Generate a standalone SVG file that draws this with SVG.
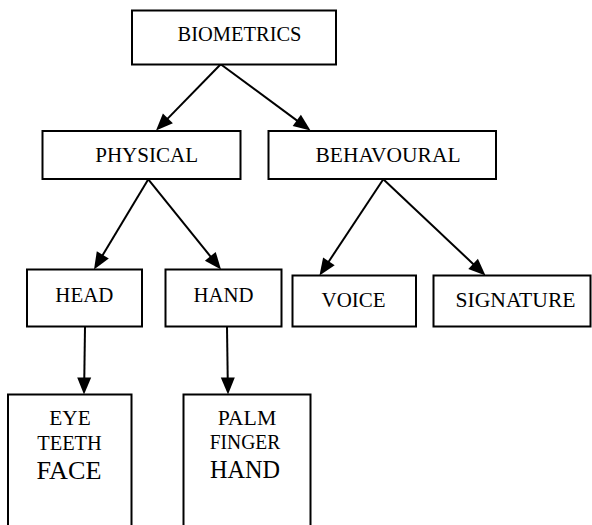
<svg xmlns="http://www.w3.org/2000/svg" width="592" height="525" viewBox="0 0 592 525">
<style>
.box{fill:#fff;stroke:#000;stroke-width:2}
text{font-family:"Liberation Serif","DejaVu Serif","Times New Roman",serif;font-size:21px;fill:#000;text-anchor:middle}
text.sm{font-size:20px}
text.lg{font-size:25px}
.con{stroke:#000;stroke-width:2;fill:none}
.head{fill:#000;stroke:none}
</style>
<rect width="592" height="525" fill="#fff"/>
<g id="connectors">
<line class="con" x1="220.7" y1="64.3" x2="163" y2="123.4"/>
<polygon class="head" points="156,130.5 172.9,123.2 162.9,113.4"/>
<line class="con" x1="220.7" y1="64.3" x2="302.5" y2="124.6"/>
<polygon class="head" points="310.5,130.5 292.7,126.1 300.9,114.8"/>
<line class="con" x1="148.3" y1="179.3" x2="99.2" y2="260.9"/>
<polygon class="head" points="94,269.5 108.8,258.5 96.8,251.3"/>
<line class="con" x1="148.3" y1="179.3" x2="214.7" y2="261.7"/>
<polygon class="head" points="221,269.5 204.9,260.7 215.7,251.9"/>
<line class="con" x1="383.3" y1="179.3" x2="325" y2="267.2"/>
<polygon class="head" points="319.5,275.5 334.7,265.2 323.1,257.4"/>
<line class="con" x1="383.3" y1="179.3" x2="478.2" y2="268.7"/>
<polygon class="head" points="485.5,275.5 468.3,269 477.9,258.8"/>
<line class="con" x1="85" y1="327" x2="84.2" y2="384.5"/>
<polygon class="head" points="84,394.5 77.2,377.5 91.2,377.5"/>
<line class="con" x1="227" y1="327" x2="227.8" y2="384.5"/>
<polygon class="head" points="228,394.5 220.8,377.5 234.8,377.5"/>
</g>
<g id="biometrics">
<rect class="box" x="132" y="10.5" width="204" height="54"/>
<text x="239.5" y="40.5" textLength="124" lengthAdjust="spacingAndGlyphs">BIOMETRICS</text>
</g>
<g id="physical">
<rect class="box" x="42.5" y="131" width="198" height="48"/>
<text x="146.7" y="162.3" textLength="103" lengthAdjust="spacingAndGlyphs">PHYSICAL</text>
</g>
<g id="behavioural">
<rect class="box" x="268.5" y="131" width="227.5" height="48"/>
<text x="388" y="162.3" textLength="145" lengthAdjust="spacingAndGlyphs">BEHAVOURAL</text>
</g>
<g id="head">
<rect class="box" x="27" y="269.5" width="115" height="57"/>
<text x="84.3" y="302" textLength="58" lengthAdjust="spacingAndGlyphs">HEAD</text>
</g>
<g id="hand">
<rect class="box" x="165.5" y="269.5" width="116" height="57"/>
<text x="223.4" y="302" textLength="60" lengthAdjust="spacingAndGlyphs">HAND</text>
</g>
<g id="voice">
<rect class="box" x="292.5" y="275.5" width="123.5" height="51"/>
<text x="353.6" y="307" textLength="64" lengthAdjust="spacingAndGlyphs">VOICE</text>
</g>
<g id="signature">
<rect class="box" x="433.5" y="275.5" width="157" height="51"/>
<text x="515.5" y="307" textLength="120" lengthAdjust="spacingAndGlyphs">SIGNATURE</text>
</g>
<g id="head-parts">
<rect class="box" x="8" y="394.5" width="123.5" height="140"/>
<text class="sm" x="70" y="425" textLength="41.5" lengthAdjust="spacingAndGlyphs">EYE</text>
<text class="sm" x="69.5" y="450" textLength="64.5" lengthAdjust="spacingAndGlyphs">TEETH</text>
<text class="lg" x="69" y="478.5" textLength="65" lengthAdjust="spacingAndGlyphs">FACE</text>
</g>
<g id="hand-parts">
<rect class="box" x="183.5" y="394.5" width="127" height="140"/>
<text class="sm" x="247" y="425" textLength="58.5" lengthAdjust="spacingAndGlyphs">PALM</text>
<text class="sm" x="245" y="449" textLength="70.5" lengthAdjust="spacingAndGlyphs">FINGER</text>
<text class="lg" x="245" y="478.3" textLength="70" lengthAdjust="spacingAndGlyphs">HAND</text>
</g>
</svg>
